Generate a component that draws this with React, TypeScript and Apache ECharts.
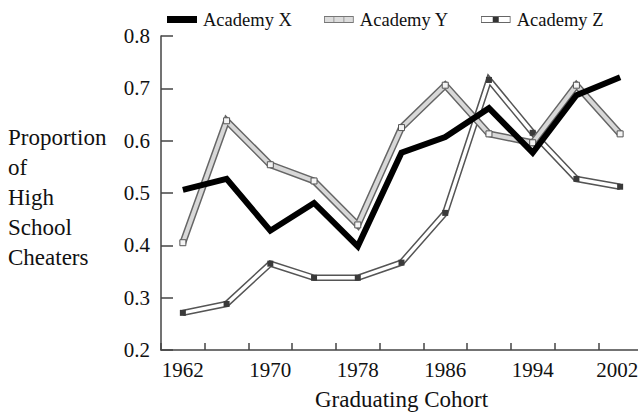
import React, { useEffect, useRef } from "react";
import * as echarts from "echarts";

const years = [1962, 1966, 1970, 1974, 1978, 1982, 1986, 1990, 1994, 1998, 2002];
const academyX = [0.506, 0.527, 0.428, 0.481, 0.398, 0.577, 0.607, 0.662, 0.577, 0.687, 0.721];
const academyY = [0.405, 0.638, 0.554, 0.523, 0.439, 0.625, 0.706, 0.613, 0.596, 0.706, 0.613];
const academyZ = [0.271, 0.288, 0.365, 0.338, 0.338, 0.367, 0.462, 0.716, 0.615, 0.527, 0.512];
const xLabelYears = [1962, 1970, 1978, 1986, 1994, 2002];
const yAxisNameLines = ["Proportion", "of", "High", "School", "Cheaters"];

const FONT = "'Liberation Serif', 'Times New Roman', serif";

const svgIcon = (svg: string) =>
  "image://data:image/svg+xml;charset=utf-8," + encodeURIComponent(svg);

const iconY = svgIcon(
  '<svg xmlns="http://www.w3.org/2000/svg" width="30" height="7" viewBox="0 0 30 7">' +
    '<rect x="0.5" y="0.5" width="29" height="6" fill="#dcdcdc" stroke="#777" stroke-width="1"/>' +
    '<line x1="10" y1="1" x2="10" y2="6" stroke="#999" stroke-width="1"/>' +
    '<line x1="20" y1="1" x2="20" y2="6" stroke="#999" stroke-width="1"/>' +
    "</svg>"
);
const iconZ = svgIcon(
  '<svg xmlns="http://www.w3.org/2000/svg" width="30" height="7" viewBox="0 0 30 7">' +
    '<rect x="0.5" y="0.5" width="29" height="6" fill="#ffffff" stroke="#666" stroke-width="1"/>' +
    '<rect x="12" y="1" width="6" height="5" fill="#333"/>' +
    "</svg>"
);

const pairs = (vals: number[]) => years.map((y, i) => [y, vals[i]]);

export default function App() {
  const ref = useRef<HTMLDivElement>(null);
  useEffect(() => {
    if (!ref.current) return;
    const chart = echarts.init(ref.current, undefined, { renderer: "svg" });
    const lastYear = xLabelYears[xLabelYears.length - 1];
    chart.setOption({
      animation: false,
      backgroundColor: "#ffffff",
      textStyle: { fontFamily: FONT },
      legend: {
        left: 162,
        top: 5,
        itemWidth: 30,
        itemHeight: 7,
        itemGap: 32,
        textStyle: { fontFamily: FONT, fontSize: 18.5, color: "#111", padding: [0, 0, 0, 1] },
        data: [
          { name: "Academy X", icon: "rect", itemStyle: { color: "#000" } },
          { name: "Academy Y", icon: iconY },
          { name: "Academy Z", icon: iconZ },
        ],
      },
      grid: { left: 161, right: -4, top: 36, bottom: 66, containLabel: false, outerBoundsMode: "none" },
      xAxis: [
        {
          type: "value",
          min: 1960,
          max: 2004,
          interval: 4,
          axisLine: { show: true, lineStyle: { color: "#444", width: 1.5 } },
          axisTick: { show: true, inside: true, length: 7, lineStyle: { color: "#444", width: 1.5 } },
          axisLabel: { show: false },
          splitLine: { show: false },
          name: "Graduating Cohort",
          nameLocation: "middle",
          nameGap: 38,
          nameMoveOverlap: false,
          nameTextStyle: { fontFamily: FONT, fontSize: 23, color: "#111" },
        },
        {
          type: "value",
          position: "bottom",
          min: 1960,
          max: 2004,
          interval: 2,
          axisLine: { show: false },
          axisTick: { show: false },
          splitLine: { show: false },
          axisLabel: {
            show: true,
            margin: 9,
            fontFamily: FONT,
            fontSize: 21,
            color: "#111",
            showMinLabel: false,
            showMaxLabel: false,
            formatter: (v: number) =>
              v === lastYear ? "{last|" + v + "}" : xLabelYears.includes(v) ? String(v) : "",
            rich: {
              last: { fontFamily: FONT, fontSize: 21, color: "#111", padding: [0, 6, 0, 0] },
            },
          },
        },
      ],
      yAxis: {
        type: "value",
        min: 0.2,
        max: 0.8,
        interval: 0.1,
        axisLine: { show: true, lineStyle: { color: "#444", width: 1.5 } },
        axisTick: { show: true, inside: true, length: 12, lineStyle: { color: "#444", width: 1.5 } },
        splitLine: { show: false },
        axisLabel: {
          margin: 11,
          fontFamily: FONT,
          fontSize: 21,
          color: "#111",
          formatter: (v: number) => v.toFixed(1),
        },
      },
      graphic: [
        {
          type: "text",
          left: 8,
          top: 122,
          style: {
            text: yAxisNameLines.join("\n"),
            fontFamily: FONT,
            fontSize: 23,
            lineHeight: 30,
            fill: "#111",
          },
        },
      ],
      series: [
        {
          name: "Academy Z outline",
          type: "line",
          z: 1,
          data: pairs(academyZ),
          symbol: "none",
          lineStyle: { color: "#555", width: 6.5, join: "miter" },
          silent: true,
        },
        {
          name: "Academy Z",
          type: "line",
          z: 2,
          data: pairs(academyZ),
          symbol: "rect",
          symbolSize: 6,
          itemStyle: { color: "#3a3a3a", borderColor: "#3a3a3a", borderWidth: 0 },
          lineStyle: { color: "#ffffff", width: 3.5, join: "miter" },
        },
        {
          name: "Academy Y outline",
          type: "line",
          z: 3,
          data: pairs(academyY),
          symbol: "none",
          lineStyle: { color: "#666", width: 7, join: "miter" },
          silent: true,
        },
        {
          name: "Academy Y",
          type: "line",
          z: 4,
          data: pairs(academyY),
          symbol: "rect",
          symbolSize: 6,
          itemStyle: { color: "#f4f4f4", borderColor: "#555", borderWidth: 1 },
          lineStyle: { color: "#d8d8d8", width: 4, join: "miter" },
        },
        {
          name: "Academy X",
          type: "line",
          z: 5,
          data: pairs(academyX),
          symbol: "none",
          itemStyle: { color: "#000" },
          lineStyle: { color: "#000", width: 6, join: "miter" },
        },
      ],
    });
    return () => chart.dispose();
  }, []);
  return <div ref={ref} style={{ width: 638, height: 416, position: "fixed", left: 0, top: 0 }} />;
}
